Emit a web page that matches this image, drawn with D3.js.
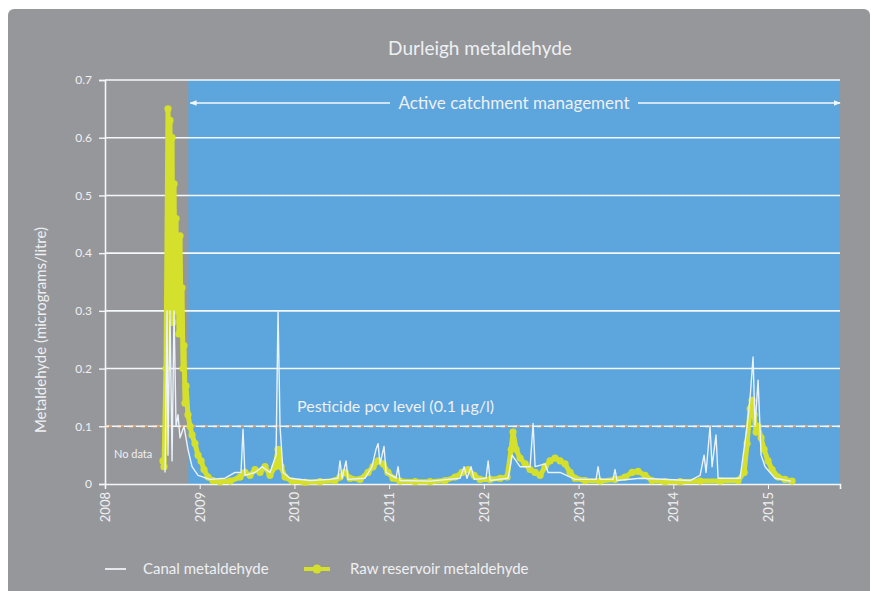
<!DOCTYPE html>
<html>
<head>
<meta charset="utf-8">
<script src="https://cdn.jsdelivr.net/npm/d3@7"></script>
<style>
  body { margin: 0; background: #ffffff; }
  svg { display: block; }
  text { font-family: Lato, "Open Sans", sans-serif; }
</style>
</head>
<body>
<svg id="chart" width="876" height="591"></svg>
<script>
// time is in decimal years
var yearTicks = [2008, 2009, 2010, 2011, 2012, 2013, 2014, 2015]
var yTicks = [0, 0.1, 0.2, 0.3, 0.4, 0.5, 0.6, 0.7]
var pcvLevel = 0.1
var activeStart = 2008.88

var reservoirTime = [
    2008.612, 2008.623, 2008.644, 2008.665, 2008.676, 2008.686, 2008.697, 2008.708, 2008.718, 2008.729,
    2008.739, 2008.750, 2008.760, 2008.771, 2008.781, 2008.792, 2008.803, 2008.813, 2008.824, 2008.834,
    2008.845, 2008.855, 2008.876, 2008.898, 2008.919, 2008.950, 2008.982, 2009.014, 2009.045, 2009.088,
    2009.140, 2009.214, 2009.320, 2009.426, 2009.478, 2009.531, 2009.584, 2009.637, 2009.690, 2009.742,
    2009.795, 2009.827, 2009.859, 2009.901, 2009.975, 2010.112, 2010.270, 2010.429, 2010.481, 2010.534,
    2010.587, 2010.693, 2010.777, 2010.830, 2010.883, 2010.936, 2010.988, 2011.041, 2011.115, 2011.274,
    2011.432, 2011.590, 2011.696, 2011.770, 2011.833, 2011.897, 2011.960, 2012.066, 2012.171, 2012.245,
    2012.288, 2012.308, 2012.340, 2012.382, 2012.435, 2012.488, 2012.541, 2012.594, 2012.646, 2012.699,
    2012.752, 2012.805, 2012.857, 2012.910, 2012.963, 2013.069, 2013.227, 2013.385, 2013.491, 2013.565,
    2013.628, 2013.702, 2013.776, 2013.913, 2014.072, 2014.283, 2014.494, 2014.684, 2014.748, 2014.779,
    2014.811, 2014.832, 2014.853, 2014.874, 2014.895, 2014.927, 2014.958, 2015.000, 2015.043, 2015.106,
    2015.180, 2015.254
]
var reservoirValue = [
    0.04, 0.03, 0.2, 0.65, 0.55, 0.63, 0.3, 0.6, 0.28, 0.52,
    0.33, 0.46, 0.3, 0.4, 0.26, 0.43, 0.28, 0.34, 0.2, 0.24,
    0.14, 0.17, 0.12, 0.1, 0.085, 0.07, 0.05, 0.04, 0.025, 0.012,
    0.006, 0.004, 0.005, 0.012, 0.02, 0.015, 0.025, 0.02, 0.03, 0.015,
    0.03, 0.06, 0.03, 0.012, 0.005, 0.003, 0.004, 0.006, 0.012, 0.02,
    0.01, 0.008, 0.02, 0.03, 0.04, 0.035, 0.02, 0.01, 0.005, 0.004,
    0.004, 0.006, 0.012, 0.02, 0.025, 0.015, 0.008, 0.008, 0.01, 0.012,
    0.06, 0.09, 0.06, 0.045, 0.035, 0.025, 0.02, 0.015, 0.03, 0.04,
    0.045, 0.04, 0.035, 0.02, 0.01, 0.006, 0.005, 0.008, 0.012, 0.02,
    0.022, 0.015, 0.006, 0.004, 0.004, 0.005, 0.005, 0.006, 0.02, 0.07,
    0.13, 0.145, 0.12, 0.09, 0.1, 0.08, 0.06, 0.04, 0.025, 0.012,
    0.008, 0.005
]

var canalTime = [
    2008.634, 2008.655, 2008.665, 2008.686, 2008.708, 2008.729, 2008.750, 2008.771, 2008.792, 2008.834,
    2008.876, 2008.919, 2008.982, 2009.109, 2009.267, 2009.373, 2009.436, 2009.457, 2009.478, 2009.584,
    2009.658, 2009.742, 2009.806, 2009.827, 2009.848, 2009.880, 2009.953, 2010.165, 2010.376, 2010.460,
    2010.481, 2010.503, 2010.545, 2010.566, 2010.745, 2010.819, 2010.861, 2010.883, 2010.904, 2010.946,
    2010.967, 2011.073, 2011.094, 2011.115, 2011.432, 2011.749, 2011.791, 2011.822, 2011.865, 2011.897,
    2012.023, 2012.045, 2012.066, 2012.256, 2012.298, 2012.382, 2012.488, 2012.520, 2012.541, 2012.646,
    2012.678, 2012.805, 2012.963, 2013.185, 2013.206, 2013.227, 2013.364, 2013.385, 2013.406, 2013.649,
    2014.177, 2014.283, 2014.325, 2014.346, 2014.388, 2014.409, 2014.451, 2014.473, 2014.705, 2014.779,
    2014.811, 2014.842, 2014.863, 2014.895, 2014.927, 2014.969, 2015.074, 2015.243
]
var canalValue = [
    0.02, 0.3, 0.05, 0.3, 0.04, 0.3, 0.1, 0.12, 0.08, 0.1,
    0.06, 0.03, 0.015, 0.008, 0.01, 0.02, 0.02, 0.095, 0.015, 0.02,
    0.03, 0.02, 0.05, 0.3, 0.1, 0.02, 0.01, 0.006, 0.008, 0.01,
    0.04, 0.01, 0.04, 0.008, 0.01, 0.03, 0.06, 0.07, 0.035, 0.065,
    0.02, 0.01, 0.03, 0.006, 0.005, 0.01, 0.03, 0.01, 0.03, 0.008,
    0.01, 0.04, 0.006, 0.01, 0.05, 0.03, 0.03, 0.105, 0.03, 0.035,
    0.02, 0.02, 0.008, 0.008, 0.03, 0.008, 0.008, 0.025, 0.006, 0.01,
    0.006, 0.015, 0.05, 0.02, 0.1, 0.03, 0.085, 0.01, 0.01, 0.1,
    0.15, 0.22, 0.1, 0.18, 0.05, 0.03, 0.01, 0.005
]

function drawChart() {
    "use strict";

    var reservoir = reservoirTime.map(function(t, i) { return {t: t, v: reservoirValue[i]} })
    var canal = canalTime.map(function(t, i) { return {t: t, v: canalValue[i]} })

    var svg = d3.select("#chart")
    var grey = "#96979b"
    var blue = "#5da5dd"
    var yellow = "#d5e02c"
    var textColor = "#eef0f2"

    var plotLeft = 105, plotRight = 840, plotTop = 80, plotBottom = 484

    var x = d3.scaleLinear().domain([2008, 2015.76]).range([plotLeft, plotRight])
    var y = d3.scaleLinear().domain([0, 0.7]).range([plotBottom, plotTop])

    svg.append("rect")
        .attr("x", 8).attr("y", 9)
        .attr("width", 862).attr("height", 590)
        .attr("rx", 6)
        .attr("fill", grey)

    // active management period
    svg.append("rect")
        .attr("x", x(activeStart))
        .attr("y", y(0.7))
        .attr("width", plotRight - x(activeStart))
        .attr("height", y(0) - y(0.7))
        .attr("fill", blue)

    svg.append("text")
        .attr("x", 480).attr("y", 55)
        .attr("text-anchor", "middle")
        .attr("font-size", 19)
        .attr("fill", textColor)
        .text("Durleigh metaldehyde")

    // grid
    svg.append("g")
        .selectAll("line")
        .data(yTicks.filter(function(d) { return d > 0 }))
        .enter().append("line")
        .attr("x1", plotLeft).attr("x2", plotRight)
        .attr("y1", function(d) { return y(d) })
        .attr("y2", function(d) { return y(d) })
        .attr("stroke", "#f4f8fb")
        .attr("stroke-width", 1.6)

    var yAxis = svg.append("g")
        .attr("transform", "translate(" + plotLeft + ",0)")
        .call(d3.axisLeft(y).tickValues(yTicks).tickSize(6).tickPadding(7)
            .tickFormat(function(d) { return d === 0 ? "0" : d3.format(".1f")(d) }))
    yAxis.select(".domain").attr("stroke", "#f4f6f8").attr("stroke-width", 1.6)
    yAxis.selectAll(".tick line").attr("stroke", "#f4f6f8").attr("stroke-width", 1.4)
    yAxis.selectAll(".tick text").attr("fill", textColor).attr("font-size", 12)
        .attr("font-family", "Lato, sans-serif")

    var xAxis = svg.append("g")
        .attr("transform", "translate(0," + plotBottom + ")")
        .call(d3.axisBottom(x).tickValues(yearTicks).tickSize(5).tickFormat(d3.format("d")))
    xAxis.select(".domain").attr("stroke", "#f4f6f8").attr("stroke-width", 1.6)
    xAxis.selectAll(".tick line").attr("stroke", "#f4f6f8")
    xAxis.selectAll(".tick text")
        .attr("fill", textColor).attr("font-size", 13)
        .attr("font-family", "Lato, sans-serif")
        .attr("transform", "rotate(-90)")
        .attr("text-anchor", "end")
        .attr("x", -8).attr("y", 0).attr("dy", "0.35em")

    svg.append("text")
        .attr("transform", "translate(46,330) rotate(-90)")
        .attr("text-anchor", "middle")
        .attr("font-size", 15)
        .attr("fill", textColor)
        .text("Metaldehyde (micrograms/litre)")

    // pcv line
    svg.append("line")
        .attr("x1", plotLeft).attr("x2", plotRight)
        .attr("y1", y(pcvLevel)).attr("y2", y(pcvLevel))
        .attr("stroke", "#eb9a55").attr("stroke-width", 1.8)
        .attr("stroke-dasharray", "7,5")
    svg.append("line")
        .attr("x1", plotLeft).attr("x2", plotRight)
        .attr("y1", y(pcvLevel)).attr("y2", y(pcvLevel))
        .attr("stroke", "#f3efe8").attr("stroke-width", 1.8)
        .attr("stroke-dasharray", "4,8")

    svg.append("text")
        .attr("x", 297).attr("y", 412)
        .attr("font-size", 16)
        .attr("fill", textColor)
        .text("Pesticide pcv level (0.1 \u00b5g/l)")

    svg.append("text")
        .attr("x", 114).attr("y", 458)
        .attr("font-size", 11)
        .attr("fill", textColor)
        .text("No data")

    // active catchment management arrow
    var defs = svg.append("defs")
    defs.append("marker")
        .attr("id", "arr")
        .attr("viewBox", "0 0 10 10")
        .attr("refX", 9).attr("refY", 5)
        .attr("markerWidth", 5).attr("markerHeight", 5)
        .attr("orient", "auto-start-reverse")
        .append("path")
        .attr("d", "M0,1L10,5L0,9Z")
        .attr("fill", "#f4f8fb")

    var arrowY = 103
    svg.append("line")
        .attr("x1", x(activeStart) + 2).attr("x2", 390)
        .attr("y1", arrowY).attr("y2", arrowY)
        .attr("stroke", "#f4f8fb").attr("stroke-width", 1.4)
        .attr("marker-start", "url(#arr)")
    svg.append("line")
        .attr("x1", 638).attr("x2", plotRight)
        .attr("y1", arrowY).attr("y2", arrowY)
        .attr("stroke", "#f4f8fb").attr("stroke-width", 1.4)
        .attr("marker-end", "url(#arr)")
    svg.append("text")
        .attr("x", 514).attr("y", arrowY + 6)
        .attr("text-anchor", "middle")
        .attr("font-size", 17)
        .attr("fill", textColor)
        .text("Active catchment management")

    // series
    var line = d3.line()
        .x(function(d) { return x(d.t) })
        .y(function(d) { return y(d.v) })

    svg.append("path")
        .datum(reservoir)
        .attr("d", line)
        .attr("fill", "none")
        .attr("stroke", yellow)
        .attr("stroke-width", 5)
        .attr("stroke-linejoin", "round")

    svg.append("g")
        .selectAll("circle")
        .data(reservoir)
        .enter().append("circle")
        .attr("cx", function(d) { return x(d.t) })
        .attr("cy", function(d) { return y(d.v) })
        .attr("r", 3.6)
        .attr("fill", yellow)

    svg.append("path")
        .datum(canal)
        .attr("d", line)
        .attr("fill", "none")
        .attr("stroke", "#eaf2fa")
        .attr("stroke-width", 1.4)
        .attr("stroke-linejoin", "round")

    // legend
    var legend = svg.append("g").attr("transform", "translate(0,569)")
    legend.append("line")
        .attr("x1", 105).attr("x2", 126)
        .attr("stroke", "#e4e8ee").attr("stroke-width", 2)
    legend.append("text")
        .attr("x", 143).attr("y", 5)
        .attr("font-size", 15)
        .attr("fill", textColor)
        .text("Canal metaldehyde")
    legend.append("line")
        .attr("x1", 304).attr("x2", 330)
        .attr("stroke", yellow).attr("stroke-width", 4)
    legend.append("circle")
        .attr("cx", 317).attr("r", 4.5)
        .attr("fill", yellow)
    legend.append("text")
        .attr("x", 350).attr("y", 5)
        .attr("font-size", 15)
        .attr("fill", textColor)
        .text("Raw reservoir metaldehyde")
}

drawChart()
</script>
</body>
</html>
